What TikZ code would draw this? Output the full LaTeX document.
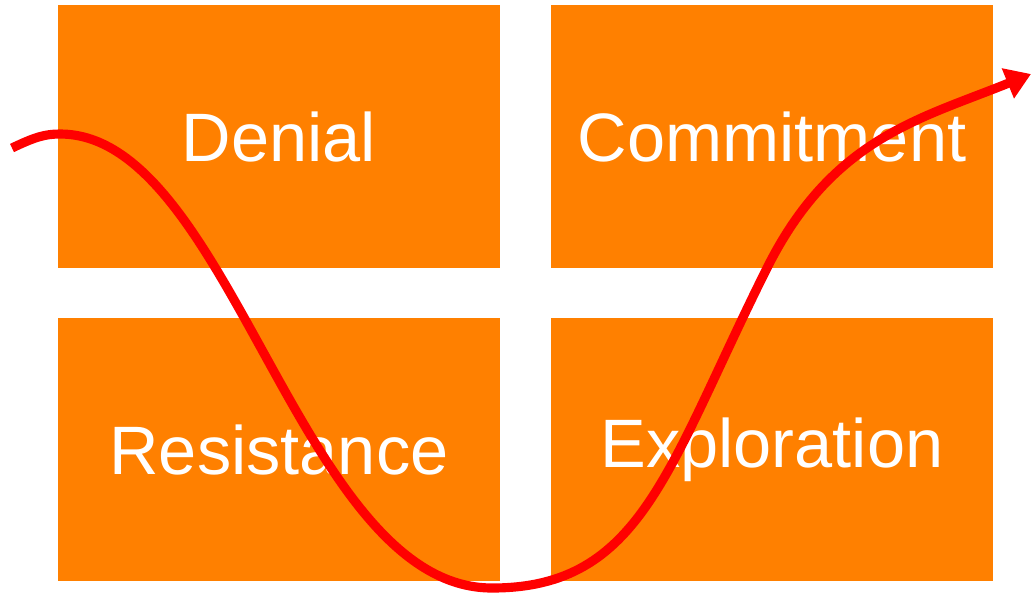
\documentclass[tikz,border=0pt]{standalone}
\usepackage{fontspec}
\setmainfont{Liberation Sans}
\usetikzlibrary{arrows.meta}
\definecolor{stageorange}{RGB}{255,128,0}
\definecolor{curvered}{RGB}{255,0,0}

\begin{document}
\begin{tikzpicture}[x=0.02cm, y=-0.02cm,
    stage/.style  = {rectangle, fill=stageorange, minimum width=8.84cm, minimum height=5.26cm,
                     inner sep=0pt, text=white, font=\fontsize{39}{39}\selectfont},
    change/.style = {line width=5.2pt, color=curvered, -{Triangle[length=0.5cm, width=0.62cm]}},
]
\useasboundingbox (0,0) rectangle (1033,593);

% --- four stages of the change curve ---
\node[stage] (denial)  at (279, 136.5) {Denial};
\node[stage] (commit)  at (772, 136.5) {Commitment};
\node[stage] (resist)  at (279, 449.5) {Resistance};
\node[stage] (explore) at (772, 449.5) {Exploration};

% --- curve through the stages ---
\coordinate (start) at (12,148);
\coordinate (peak)  at (60,134);
\coordinate (low)   at (492,588);
\coordinate (turn)  at (767,268);
\coordinate (tip)   at (1031,74);

\draw[change] (start) .. controls (35,137) and (45,134) .. (peak)
              .. controls (231,134) and (300,588) .. (low)
              .. controls (642,588) and (667,468) .. (turn)
              .. controls (832,138) and (920,119) .. (tip);

\end{tikzpicture}
\end{document}
